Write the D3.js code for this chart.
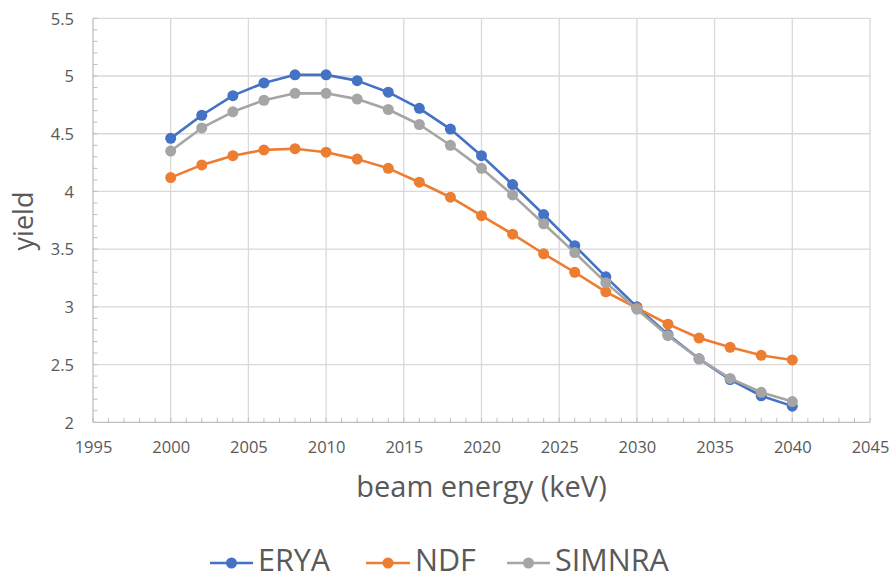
<!DOCTYPE html>
<html>
<head>
<meta charset="utf-8">
<script src="https://cdn.jsdelivr.net/npm/d3@7/dist/d3.min.js"></script>
<style>
  html, body { margin: 0; padding: 0; background: #fff; }
  svg { display: block; font-family: "Open Sans", "Noto Sans", sans-serif; }
</style>
</head>
<body>
<svg id="chart" width="891" height="579"></svg>
<script>
// ---- Data ----
const energies = [2000, 2002, 2004, 2006, 2008, 2010, 2012, 2014, 2016, 2018, 2020,
                  2022, 2024, 2026, 2028, 2030, 2032, 2034, 2036, 2038, 2040];
const erya   = [4.46, 4.66, 4.83, 4.94, 5.01, 5.01, 4.96, 4.86, 4.72, 4.54, 4.31,
                4.06, 3.80, 3.53, 3.26, 3.00, 2.76, 2.55, 2.37, 2.23, 2.14];
const ndf    = [4.12, 4.23, 4.31, 4.36, 4.37, 4.34, 4.28, 4.20, 4.08, 3.95, 3.79,
                3.63, 3.46, 3.30, 3.13, 2.99, 2.85, 2.73, 2.65, 2.58, 2.54];
const simnra = [4.35, 4.55, 4.69, 4.79, 4.85, 4.85, 4.80, 4.71, 4.58, 4.40, 4.20,
                3.97, 3.72, 3.47, 3.21, 2.98, 2.75, 2.55, 2.38, 2.26, 2.18];
const seriesNames = ["ERYA", "NDF", "SIMNRA"];
const seriesColors = ["#4472C4", "#ED7D31", "#A5A5A5"];
const xTicks = [1995, 2000, 2005, 2010, 2015, 2020, 2025, 2030, 2035, 2040, 2045];
const yTicks = [2, 2.5, 3, 3.5, 4, 4.5, 5, 5.5];
const xTitle = "beam energy (keV)";
const yTitle = "yield";

(function () {
const series = [erya, ndf, simnra].map((vals, i) => ({
  name: seriesNames[i], color: seriesColors[i],
  points: vals.map((v, j) => ({ x: energies[j], y: v }))
}));

// ---- Layout ----
const svg = d3.select("#chart");
const pLeft = 93, pRight = 870, pTop = 18.3, pBottom = 422.3;
const x = d3.scaleLinear().domain([1995, 2045]).range([pLeft, pRight]);
const y = d3.scaleLinear().domain([2, 5.5]).range([pBottom, pTop]);

const gridColor = "#D9D9D9";
const axisColor = "#BFBFBF";
const textColor = "#595959";

svg.append("rect").attr("width", 891).attr("height", 579).attr("fill", "#fff");

// Gridlines
const grid = svg.append("g");
grid.selectAll(".gy").data(yTicks.filter(d => d !== 2)).join("line")
  .attr("x1", pLeft).attr("x2", pRight)
  .attr("y1", d => y(d)).attr("y2", d => y(d))
  .attr("stroke", gridColor).attr("stroke-width", 1.3);
grid.selectAll(".gx").data(xTicks.filter(d => d !== 1995)).join("line")
  .attr("x1", d => x(d)).attr("x2", d => x(d))
  .attr("y1", pTop).attr("y2", pBottom)
  .attr("stroke", gridColor).attr("stroke-width", 1.3);

// Minor ticks (inward)
const minorY = d3.range(2, 5.5001, 0.1).map(d => +d.toFixed(1));
const minorX = d3.range(1995, 2045.001, 1);
const tk = svg.append("g");
tk.selectAll(".my").data(minorY).join("line")
  .attr("x1", pLeft).attr("x2", pLeft + 4.5)
  .attr("y1", d => y(d)).attr("y2", d => y(d))
  .attr("stroke", axisColor).attr("stroke-width", 1);
tk.selectAll(".mx").data(minorX).join("line")
  .attr("x1", d => x(d)).attr("x2", d => x(d))
  .attr("y1", pBottom).attr("y2", pBottom - 4.5)
  .attr("stroke", axisColor).attr("stroke-width", 1);

// Axis lines
svg.append("line").attr("x1", pLeft).attr("x2", pLeft).attr("y1", pTop).attr("y2", pBottom)
  .attr("stroke", axisColor).attr("stroke-width", 1.3);
svg.append("line").attr("x1", pLeft).attr("x2", pRight).attr("y1", pBottom).attr("y2", pBottom)
  .attr("stroke", axisColor).attr("stroke-width", 1.3);

// Tick labels via d3 axes (no domain/tick lines)
const xAxis = d3.axisBottom(x).tickValues(xTicks).tickFormat(d3.format("d")).tickSize(0).tickPadding(0);
const gx = svg.append("g").attr("transform", `translate(0,${pBottom})`).call(xAxis);
gx.select(".domain").remove();
gx.selectAll("text").attr("y", 30.5).attr("dy", 0)
  .attr("fill", textColor).style("font-size", "16.5px").style("font-family", "'Open Sans', sans-serif");

const yAxis = d3.axisLeft(y).tickValues(yTicks).tickFormat(d => String(d)).tickSize(0).tickPadding(0);
const gy = svg.append("g").attr("transform", `translate(${pLeft},0)`).call(yAxis);
gy.select(".domain").remove();
gy.selectAll("text").attr("x", -19).attr("dy", "0.35em")
  .attr("fill", textColor).style("font-size", "16.5px").style("font-family", "'Open Sans', sans-serif");

// Axis titles
svg.append("text").attr("x", (pLeft + pRight) / 2).attr("y", 496.5)
  .attr("text-anchor", "middle").attr("fill", textColor)
  .style("font-size", "29px").text(xTitle);
svg.append("text").attr("transform", "translate(33,221) rotate(-90)")
  .attr("text-anchor", "middle").attr("fill", textColor)
  .style("font-size", "27px").text(yTitle);

// Series
const line = d3.line().x(d => x(d.x)).y(d => y(d.y));
const sg = svg.append("g");
series.forEach(s => {
  const g = sg.append("g");
  g.append("path").datum(s.points).attr("d", line)
    .attr("fill", "none").attr("stroke", s.color).attr("stroke-width", 2.6)
    .attr("stroke-linejoin", "round");
  g.selectAll("circle").data(s.points).join("circle")
    .attr("cx", d => x(d.x)).attr("cy", d => y(d.y)).attr("r", 5.5)
    .attr("fill", s.color);
});

// Legend
const legendItems = [
  { x0: 210, x1: 253, tx: 258 },
  { x0: 366, x1: 410, tx: 415 },
  { x0: 507, x1: 550, tx: 555 }
];
const lg = svg.append("g");
series.forEach((s, i) => {
  const it = legendItems[i];
  const ly = 563;
  lg.append("line").attr("x1", it.x0).attr("x2", it.x1).attr("y1", ly).attr("y2", ly)
    .attr("stroke", s.color).attr("stroke-width", 2.6);
  lg.append("circle").attr("cx", (it.x0 + it.x1) / 2).attr("cy", ly).attr("r", 5.5).attr("fill", s.color);
  lg.append("text").attr("x", it.tx).attr("y", 570.5).attr("fill", textColor)
    .style("font-size", "30.5px").text(s.name);
});
})();
</script>
</body>
</html>
